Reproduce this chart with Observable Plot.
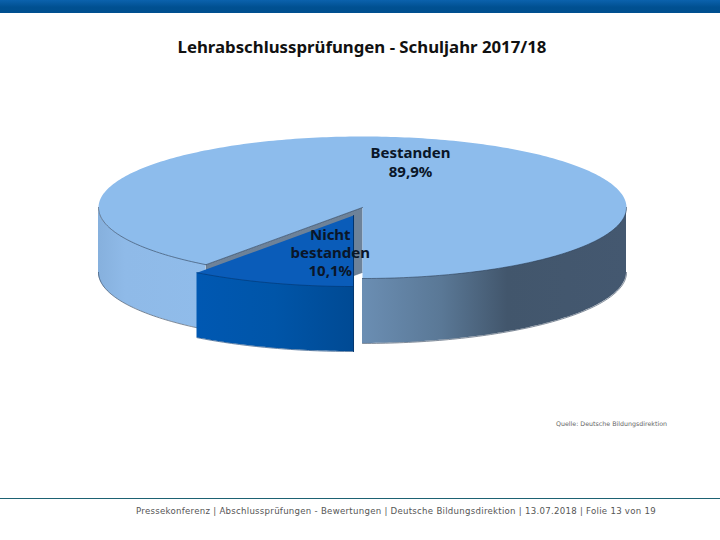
<!DOCTYPE html>
<html><head><meta charset="utf-8">
<script src="https://cdn.jsdelivr.net/npm/d3@7"></script>
<script src="https://cdn.jsdelivr.net/npm/@observablehq/plot@0.6"></script>
<style>
html,body{margin:0;padding:0;background:#fff;width:720px;height:540px;overflow:hidden;position:relative}
#banner{position:absolute;left:0;top:0;width:720px;height:13px;background:linear-gradient(#0b62ad,#005091 55%,#004f8f)}
#title{position:absolute;left:0;width:724px;top:35px;text-align:center;font:bold 16.8px "Noto Sans";color:#111;white-space:nowrap}
#chart{position:absolute;left:0;top:60px}
#source{position:absolute;right:53px;top:420px;font:6.3px "DejaVu Sans";color:#666;white-space:nowrap}
#rule{position:absolute;left:0;top:498px;width:720px;height:1px;background:#1d6273}
#footer{position:absolute;left:136px;top:506px;font:8.6px "DejaVu Sans";color:#555;white-space:nowrap;letter-spacing:.27px}
</style></head><body>
<div id="banner"></div>
<div id="title">Lehrabschlussprüfungen - Schuljahr 2017/18</div>
<div id="chart"></div>
<div id="source">Quelle: Deutsche Bildungsdirektion</div>
<div id="rule"></div>
<div id="footer">Pressekonferenz | Abschlussprüfungen - Bewertungen | Deutsche Bildungsdirektion | 13.07.2018 | Folie 13 von 19</div>
<script>
// Data
const categories = ["Nicht\nbestanden", "Bestanden"];
const shares = [10.1, 89.9];

// Pie geometry, in units of the pie's radius
const depth = 0.915;
const explode = [-0.034, 0.113];
const step = Math.PI / 180;

const total = d3.sum(shares);
const cuts = [0, ...d3.cumsum(shares).map(v => v / total * 2 * Math.PI)];
const rim = (a, b) => {
  const n = Math.max(2, Math.ceil(Math.abs(b - a) / step));
  return d3.range(n + 1).map(i => a + (b - a) * i / n);
};
const pt = (t, dx = 0, dy = 0) => ({x: -Math.sin(t) + dx, y: Math.cos(t) + dy});
const wall = (a, b, dx = 0, dy = 0) => rim(a, b).map(t => {
  const p = pt(t, dx, dy);
  return {x: p.x, y1: p.y, y2: p.y + depth};
});

const [t0, t1, t2] = cuts;
const mainTop = [{x: 0, y: 0}, ...rim(t1, t2).map(t => pt(t))];
const outTop = [{x: explode[0], y: explode[1]}, ...rim(t0, t1).map(t => pt(t, ...explode))];
const cutWall = [
  {x: 0, y: 0}, pt(t1),
  {x: pt(t1).x, y: pt(t1).y + depth}, {x: 0, y: depth}
];
const leftWall = wall(t1, Math.PI / 2);
const rightWall = wall(Math.PI * 1.5, t2);
const outWall = wall(t0, t1, ...explode);
const lowerEdge = w => w.map(d => ({x: d.x, y: d.y2}));
const upperEdge = w => w.map(d => ({x: d.x, y: d.y1}));

const grad = (id, stops) => () => {
  const defs = d3.create("svg:defs");
  const g = defs.append("linearGradient").attr("id", id);
  stops.forEach(([o, c]) => g.append("stop").attr("offset", o).attr("stop-color", c));
  return defs.node();
};
const edge = {x: "x", y: "y", stroke: "#2c3e55", strokeWidth: 0.6};

const fmt = v => v.toFixed(1).replace(".", ",") + "%";
const labels = [
  {x: -0.122, y: 0.63, text: `${categories[0]}\n${fmt(shares[0])}`},
  {x: 0.182, y: -0.645, text: `${categories[1]}\n${fmt(shares[1])}`}
];

document.getElementById("chart").appendChild(Plot.plot({
  width: 720, height: 320, margin: 0,
  x: {domain: [-1, 1], range: [98, 626], axis: null},
  y: {domain: [-1, 1], range: [76, 218], axis: null},
  marks: [
    grad("gLeft", [[0, "#86b0dd"], [0.25, "#8fbae8"], [1, "#90bcea"]]),
    grad("gRight", [[0, "#6b8eb3"], [0.3, "#5a7896"], [0.55, "#42566c"], [1, "#445870"]]),
    grad("gOut", [[0, "#0058b2"], [0.5, "#0055a8"], [1, "#004a94"]]),
    Plot.line(cutWall, {x: "x", y: "y", fill: "#6d8299", stroke: "#5a6d82", strokeWidth: 0.5}),
    Plot.areaY(leftWall, {x: "x", y1: "y1", y2: "y2", fill: "url(#gLeft)"}),
    Plot.areaY(rightWall, {x: "x", y1: "y1", y2: "y2", fill: "url(#gRight)"}),
    Plot.line(lowerEdge(leftWall), edge),
    Plot.line(lowerEdge(rightWall), edge),
    Plot.line(mainTop, {x: "x", y: "y", fill: "#8dbcec"}),
    Plot.line(upperEdge(leftWall), edge),
    Plot.line(upperEdge(rightWall), edge),
    Plot.line([mainTop[0], mainTop[1]], edge),
    Plot.areaY(outWall, {x: "x", y1: "y1", y2: "y2", fill: "url(#gOut)"}),
    Plot.line(outTop, {x: "x", y: "y", fill: "#0a5cb9"}),
    Plot.line(upperEdge(outWall), {...edge, stroke: "#00346e"}),
    Plot.line([{x: explode[0], y: explode[1]}, {x: explode[0], y: 1 + explode[1] + depth}], {...edge, stroke: "#00346e", strokeWidth: 1}),
    Plot.line(lowerEdge(outWall), {...edge, stroke: "#00346e"}),
    Plot.text(labels, {
      x: "x", y: "y", text: "text", lineHeight: 1.22,
      fontFamily: "Noto Sans", fontWeight: "bold", fontSize: 15, fill: "#0a1628"
    })
  ]
}));
</script>
</body></html>
